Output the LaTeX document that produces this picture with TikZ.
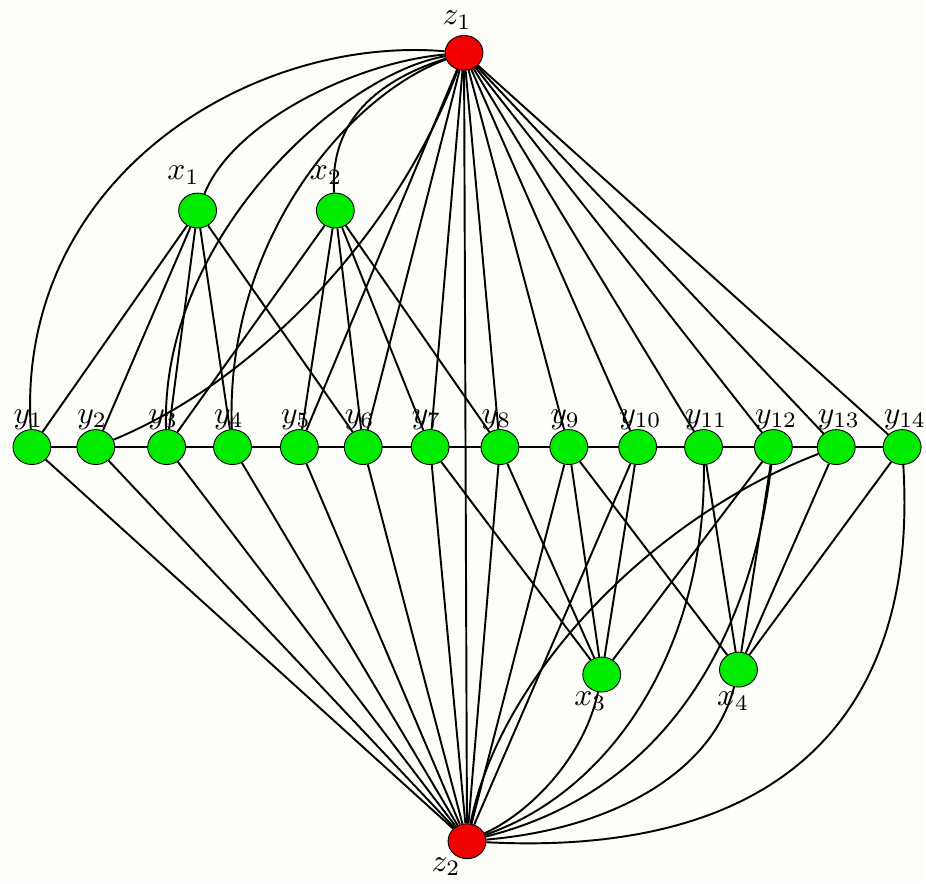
\documentclass[tikz,border=0pt]{standalone}
\usetikzlibrary{shapes.geometric}
\definecolor{vgreen}{RGB}{0,235,0}
\definecolor{vred}{RGB}{240,0,0}
\definecolor{paper}{RGB}{253,253,250}
\pgfdeclarelayer{back}
\pgfdeclarelayer{edges}
\pgfsetlayers{back,edges,main}
\begin{document}
\begin{tikzpicture}[x=0.02cm,y=-0.02cm,
  vtx/.style={ellipse,draw=black,line width=0.5pt,minimum width=0.76cm,minimum height=0.70cm,inner sep=0pt},
  gv/.style={vtx,fill=vgreen},
  rv/.style={vtx,fill=vred},
  lbl/.style={inner sep=0pt,scale=1.8,anchor=base west},
  edge/.style={line width=1.1pt}]

% vertices
\node[rv] (z1) at (465,53) {};
\node[rv] (z2) at (468,843) {};
\node[gv] (x1) at (198,211) {};
\node[gv] (x2) at (336,211) {};
\node[gv] (x3) at (603,676) {};
\node[gv] (x4) at (740,671) {};
\foreach \i/\px in {1/32,2/96,3/167,4/233,5/300,6/364,7/431,8/501,9/570,10/639,11/705,12/775,13/838,14/904}{
  \node[gv] (y\i) at (\px,448) {};
  \node[lbl] (ly\i) at (\px-19,424) {$y_{\i}$};
}

% vertex labels
\node[lbl] (lz1) at (443,25) {$z_1$};
\node[lbl] (lx1) at (167,180) {$x_1$};
\node[lbl] (lx2) at (310,180) {$x_2$};
\node[lbl] (lx3) at (575,707) {$x_3$};
\node[lbl] (lx4) at (718,707) {$x_4$};
\node[lbl] (lz2) at (432,873) {$z_2$};

\begin{pgfonlayer}{back}
  \fill[paper] (0,0) rectangle (926,885);
\end{pgfonlayer}

\begin{pgfonlayer}{edges}
  % the path through the y vertices
  \draw[edge] (y1) -- (y14);
  % straight edges
  \foreach \t in {5,...,14} \draw[edge] (z1) -- (y\t);
  \draw[edge] (z1) -- (z2);
  \foreach \t in {1,...,10} \draw[edge] (z2) -- (y\t);
  \foreach \t in {1,2,3,4,6} \draw[edge] (x1) -- (y\t);
  \foreach \t in {3,5,6,7,8} \draw[edge] (x2) -- (y\t);
  \foreach \t in {7,8,9,10,12} \draw[edge] (x3) -- (y\t);
  \foreach \t in {9,11,12,13,14} \draw[edge] (x4) -- (y\t);
  % curved edges at z1
  \draw[edge] (z1) .. controls (250,35) and (15,180) .. (y1);
  \draw[edge] (z1) .. controls (360,62) and (235,120) .. (x1);
  \draw[edge] (z1) .. controls (340,75) and (160,240) .. (y3);
  \draw[edge] (z1) .. controls (350,95) and (225,240) .. (y4);
  \draw[edge] (z1) .. controls (380,80) and (330,120) .. (x2);
  \draw[edge] (z1) .. controls (400,230) and (260,380) .. (y2);
  % curved edges at z2
  \draw[edge] (x3) .. controls (585,760) and (530,815) .. (z2);
  \draw[edge] (y11) .. controls (708,640) and (620,790) .. (z2);
  \draw[edge] (y12) .. controls (755,620) and (680,790) .. (z2);
  \draw[edge] (x4) .. controls (715,770) and (620,830) .. (z2);
  \draw[edge] (y14) .. controls (920,700) and (800,860) .. (z2);
  \draw[edge] (y13) .. controls (650,520) and (500,680) .. (z2);
\end{pgfonlayer}

\useasboundingbox (0,0) rectangle (926,885);
\end{tikzpicture}
\end{document}
